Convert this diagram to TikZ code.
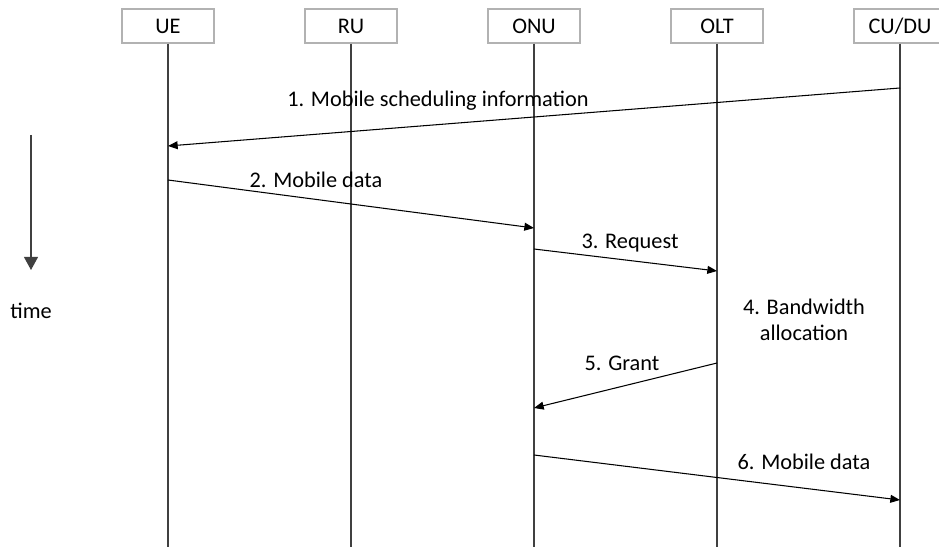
\documentclass[tikz,border=0pt]{standalone}
\usepackage{fontspec}
\setmainfont{Carlito}
\usetikzlibrary{arrows.meta}
\tikzset{entity/.style={draw=gray!60,line width=0.6pt,minimum width=1.84cm,minimum height=0.68cm,inner sep=0pt},
msg/.style={-{Triangle[length=5.5pt,width=4.5pt]},line width=0.6pt},
life/.style={line width=0.7pt,black!75}}

\begin{document}
\begin{tikzpicture}[x=0.02cm,y=-0.02cm,font=\fontsize{12.7}{15}\selectfont]
\useasboundingbox (0,0) rectangle (939,547);
\node[entity] at (168,26) (ue) {UE};
\node[entity] at (351,26) (ru) {RU};
\node[entity] at (534,26) (onu) {ONU};
\node[entity] at (717,26) (olt) {OLT};
\node[entity] at (900,26) (cudu) {CU/DU};
\coordinate (ue0) at (168,547);
\coordinate (ru0) at (351,547);
\coordinate (onu0) at (534,547);
\coordinate (olt0) at (717,547);
\coordinate (cudu0) at (900,547);
\draw[life] (ue) -- (ue0);
\draw[life] (ru) -- (ru0);
\draw[life] (onu) -- (onu0);
\draw[life] (olt) -- (olt0);
\draw[life] (cudu) -- (cudu0);
\coordinate (cudu1) at (900,88);
\coordinate (ue1) at (168,146);
\coordinate (ue2) at (168,180);
\coordinate (onu2) at (534,228);
\coordinate (onu3) at (534,249);
\coordinate (olt3) at (717,271);
\coordinate (olt5) at (717,363);
\coordinate (onu5) at (534,408);
\coordinate (onu6) at (534,455);
\coordinate (cudu6) at (900,500);
\draw[msg] (cudu1) -- (ue1);
\draw[msg] (ue2) -- (onu2);
\draw[msg] (onu3) -- (olt3);
\draw[msg] (olt5) -- (onu5);
\draw[msg] (onu6) -- (cudu6);
\node at (438,101) (a) {1. Mobile scheduling information};
\node at (316,180) (b) {2. Mobile data};
\node at (630,243) (c) {3. Request};
\node[align=center] at (804,320) (d) {4. Bandwidth\\allocation};
\node at (622,363) (e) {5. Grant};
\node at (804,462) (f) {6. Mobile data};
\coordinate (t0) at (31,135);
\coordinate (t1) at (31,270);
\draw[line width=0.8pt,black!75,-{Triangle[length=7.5pt,width=8pt]}] (t0) -- (t1);
\node at (31,311) (time) {time};
\end{tikzpicture}
\end{document}
